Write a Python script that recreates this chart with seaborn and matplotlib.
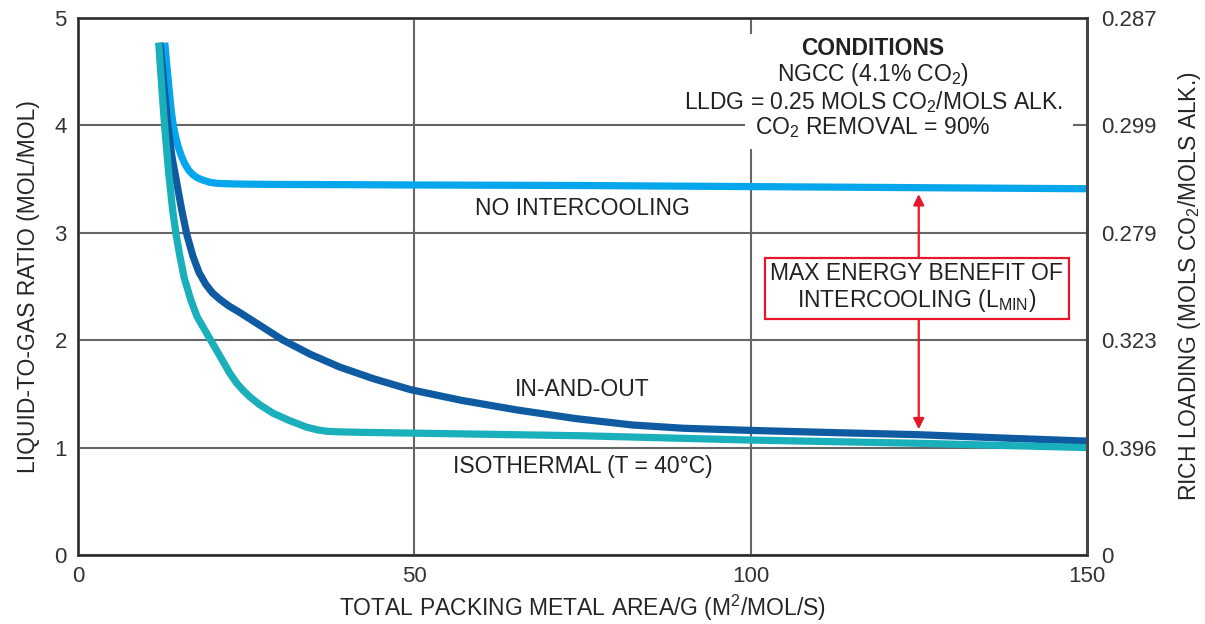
"""Liquid-to-gas ratio vs packing area for three intercooling configurations"""
import matplotlib
matplotlib.use("Agg")
import matplotlib.pyplot as plt
import numpy as np
import pandas as pd
import seaborn as sns
from matplotlib.patches import Rectangle

# values
area_none = [12.9, 13.3, 13.7, 13.9, 14.2, 14.5, 14.9, 15.4, 15.9, 16.5, 17.1, 17.8, 18.6, 19.6,
             20.7, 23, 26, 30, 40, 50, 75, 100, 125, 150]
ratio_none = [4.77, 4.50, 4.24, 4.12, 3.99, 3.90, 3.80, 3.71, 3.64, 3.58, 3.54, 3.51, 3.49, 3.47,
              3.46, 3.455, 3.452, 3.45, 3.448, 3.445, 3.44, 3.43, 3.42, 3.41]

area_inout = [12.2, 12.8, 13.4, 14.0, 14.7, 15.4, 16.2, 17.1, 18.0, 19.0, 20.0, 21.1, 22.4, 24.0,
              26.0, 28.0, 30.5, 34.5, 38.9, 44.0, 49.4, 57.0, 65.3, 74.0, 82.5, 90, 100, 112,
              125, 137, 150]
ratio_inout = [4.77, 4.36, 3.98, 3.70, 3.46, 3.22, 2.98, 2.78, 2.63, 2.52, 2.44, 2.38, 2.32, 2.26,
               2.18, 2.10, 2.00, 1.87, 1.75, 1.64, 1.54, 1.44, 1.35, 1.27, 1.21, 1.18, 1.16, 1.14,
               1.12, 1.09, 1.06]

area_iso = [12.0, 12.5, 12.9, 13.5, 14.1, 14.6, 15.1, 15.8, 16.8, 17.7, 18.9, 20.1, 21.4, 22.6,
            23.6, 24.6, 25.6, 27.0, 29.0, 31.5, 34.0, 35.6, 37.0, 39, 42, 49.4, 75, 100, 125, 150]
ratio_iso = [4.77, 4.32, 3.98, 3.55, 3.20, 2.98, 2.80, 2.58, 2.37, 2.22, 2.09, 1.96, 1.82, 1.69,
             1.60, 1.53, 1.47, 1.40, 1.32, 1.25, 1.19, 1.165, 1.152, 1.146, 1.142, 1.135, 1.11,
             1.07, 1.04, 1.00]

x_ticks = [0, 50, 100, 150]
y_ticks = [0, 1, 2, 3, 4, 5]
rich_loading_labels = ["0", "0.396", "0.323", "0.279", "0.299", "0.287"]

colors = {"NO INTERCOOLING": "#06a6ec", "IN-AND-OUT": "#0f5ba2", "ISOTHERMAL": "#19afbb"}
RED = "#e8162b"
GRID = "#666666"
TEXT = "#222222"
FS = 16.5

sns.set_style("white")
plt.rcParams["font.family"] = ["Liberation Sans", "DejaVu Sans"]
plt.rcParams["mathtext.fontset"] = "custom"
plt.rcParams["mathtext.rm"] = "Liberation Sans"
plt.rcParams["text.color"] = TEXT

df = pd.concat([
    pd.DataFrame({"area": area_none, "ratio": ratio_none, "case": "NO INTERCOOLING"}),
    pd.DataFrame({"area": area_inout, "ratio": ratio_inout, "case": "IN-AND-OUT"}),
    pd.DataFrame({"area": area_iso, "ratio": ratio_iso, "case": "ISOTHERMAL"}),
])

fig = plt.figure(figsize=(12.05, 6.24), dpi=100)
ax = fig.add_axes([0.0647, 0.1106, 0.8373, 0.8606])

sns.lineplot(data=df, x="area", y="ratio", hue="case", palette=colors,
             linewidth=5.2, legend=False, ax=ax, zorder=3)
for line in ax.get_lines():
    line.set_solid_capstyle("butt")
    line.set_solid_joinstyle("round")

ax.set_xlim(0, 150)
ax.set_ylim(0, 5)
ax.set_xticks(x_ticks)
ax.set_yticks(y_ticks)
ax.grid(True, color=GRID, linewidth=1.5)
ax.set_axisbelow(True)
for s in ax.spines.values():
    s.set_color("#444444")
    s.set_linewidth(2)
ax.tick_params(length=0, labelsize=16, colors="#333333", pad=8)

ax.set_xlabel("TOTAL PACKING METAL AREA/G (M$^\\mathregular{2}$/MOL/S)", fontsize=FS, labelpad=4)
ax.set_ylabel("LIQUID-TO-GAS RATIO (MOL/MOL)", fontsize=FS, labelpad=10)

ax2 = ax.twinx()
ax2.set_ylim(0, 5)
ax2.set_yticks(y_ticks)
ax2.set_yticklabels(rich_loading_labels)
ax2.tick_params(length=0, labelsize=16, colors="#333333", pad=10)
ax2.spines["right"].set_color("#444444")
ax2.spines["right"].set_linewidth(2)
ax2.set_ylabel("RICH LOADING (MOLS CO$_\\mathregular{2}$/MOLS ALK.)", fontsize=FS, labelpad=14)

# white panel behind the conditions block
ax.add_patch(Rectangle((99.2, 3.78), 48.8, 1.07, facecolor="white", edgecolor="none", zorder=1))
ax.text(118.2, 4.72, "CONDITIONS", ha="center", va="center", fontsize=FS, fontweight="bold", zorder=5)
ax.text(118.2, 4.47, "NGCC (4.1% CO$_\\mathregular{2}$)", ha="center", va="center", fontsize=FS, zorder=5)
ax.text(118.2, 4.22, "LLDG = 0.25 MOLS CO$_\\mathregular{2}$/MOLS ALK.", ha="center", va="center",
        fontsize=FS, zorder=5)
ax.text(118.2, 3.98, "CO$_\\mathregular{2}$ REMOVAL = 90%", ha="center", va="center", fontsize=FS, zorder=5)

# curve labels
ax.text(75, 3.23, "NO INTERCOOLING", ha="center", va="center", fontsize=FS, zorder=5)
ax.text(75, 1.54, "IN-AND-OUT", ha="center", va="center", fontsize=FS, zorder=5)
ax.text(75, 0.82, "ISOTHERMAL (T = 40°C)", ha="center", va="center", fontsize=FS, zorder=5)

# max benefit marker between the no-intercooling and in-and-out curves
x_mark = 125
y_top = np.interp(x_mark, area_none, ratio_none)
y_bot = np.interp(x_mark, area_inout, ratio_inout)
y_mid = 2.49
arrow = dict(arrowstyle="-|>", color=RED, lw=1.6, mutation_scale=16, shrinkA=0, shrinkB=0)
ax.annotate("", xy=(x_mark, y_top - 0.06), xytext=(x_mark, y_mid), arrowprops=arrow, zorder=4)
ax.annotate("", xy=(x_mark, y_bot + 0.05), xytext=(x_mark, y_mid), arrowprops=arrow, zorder=4)
ax.text(x_mark - 0.3, y_mid, "MAX ENERGY BENEFIT OF\nINTERCOOLING (L$_\\mathregular{MIN}$)",
        ha="center", va="center", fontsize=FS, linespacing=1.1, zorder=6,
        bbox=dict(boxstyle="square,pad=0.25", facecolor="white", edgecolor=RED, linewidth=1.6))

fig.savefig("out.png", dpi=100)
